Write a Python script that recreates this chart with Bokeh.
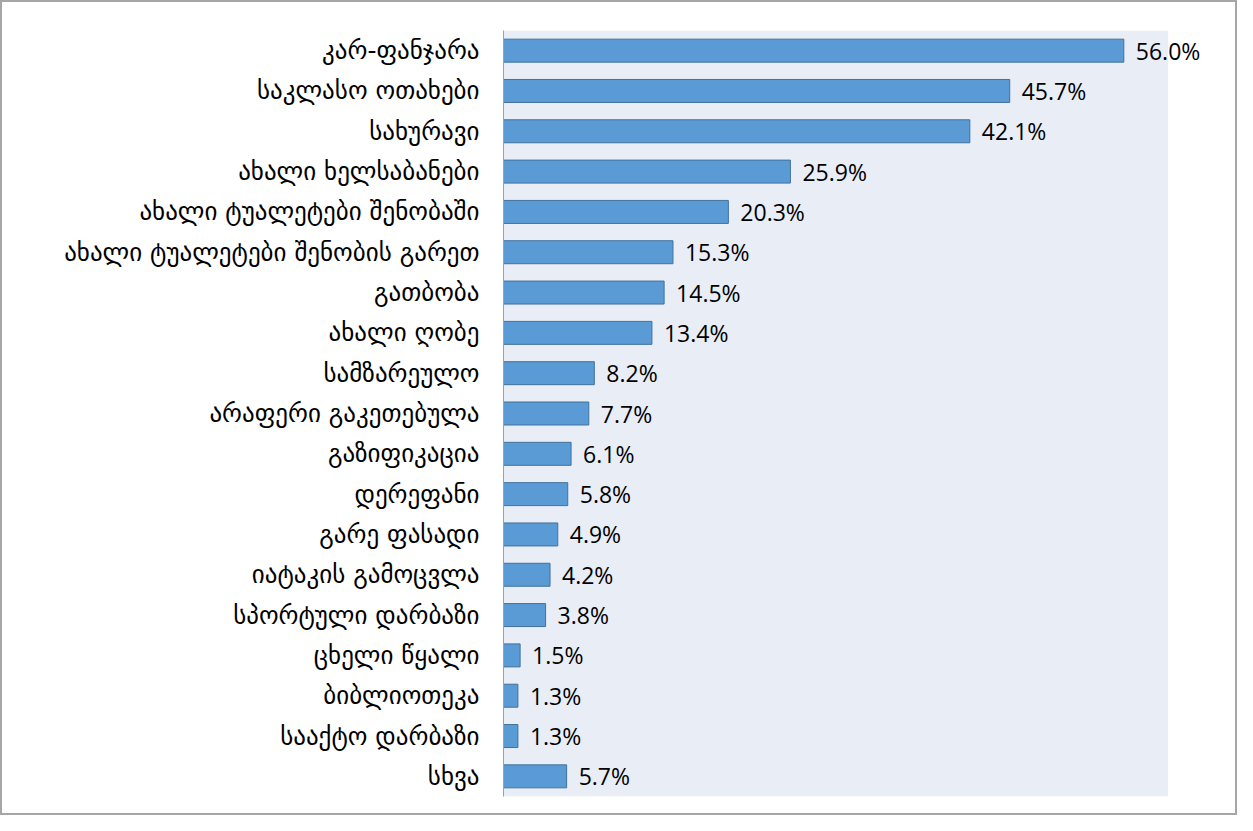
from bokeh.plotting import figure
from bokeh.models import ColumnDataSource, Range1d, FactorRange, LabelSet, BoxAnnotation
from bokeh.core.properties import value
from bokeh.embed import file_html
from bokeh.resources import INLINE

categories = ["კარ-ფანჯარა", "საკლასო ოთახები", "სახურავი", "ახალი ხელსაბანები",
              "ახალი ტუალეტები შენობაში", "ახალი ტუალეტები შენობის გარეთ", "გათბობა",
              "ახალი ღობე", "სამზარეულო", "არაფერი გაკეთებულა", "გაზიფიკაცია",
              "დერეფანი", "გარე ფასადი", "იატაკის გამოცვლა", "სპორტული დარბაზი",
              "ცხელი წყალი", "ბიბლიოთეკა", "სააქტო დარბაზი", "სხვა"]
values = [56.0, 45.7, 42.1, 25.9, 20.3, 15.3, 14.5, 13.4, 8.2, 7.7, 6.1, 5.8,
          4.9, 4.2, 3.8, 1.5, 1.3, 1.3, 5.7]
labels = [f"{v:.1f}%" for v in values]
x_max = 60

src = ColumnDataSource(dict(cat=categories, val=values, lab=labels))

left_px, plot_px, canvas_w = 501, 661, 1233
x_end = x_max * (canvas_w - left_px) / plot_px

p = figure(width=1237, height=815, output_backend="svg", toolbar_location=None,
           y_range=FactorRange(*categories[::-1], range_padding=0),
           x_range=Range1d(0, x_end))
p.min_border_left = left_px
p.min_border_right = 0
p.min_border_top = 28
p.min_border_bottom = 21
p.background_fill_color = "white"
p.border_fill_color = "white"
p.outline_line_color = None
p.styles = {"border": "2px solid #A6A6A6", "box-sizing": "border-box"}

p.add_layout(BoxAnnotation(left=0, right=x_max, fill_color="#E9EDF6", fill_alpha=1,
                           line_color=None, level="underlay"))

p.hbar(y="cat", right="val", left=0, height=0.57, source=src,
       fill_color="#5B9BD5", line_color="#41719C", line_width=1)
lbl = LabelSet(x="val", y="cat", text="lab", source=src, x_offset=12,
               text_baseline="middle", text_align="left",
               text_font=value("Open Sans"), text_font_size="23px", text_color="#000000")
p.add_layout(lbl)

p.xaxis.visible = False
p.xgrid.visible = False
p.ygrid.visible = False
ax = p.yaxis[0]
ax.axis_line_color = "#A0A0A0"
ax.major_tick_line_color = None
ax.minor_tick_line_color = None
ax.major_label_text_font = "DejaVu Sans"
ax.major_label_text_font_size = "25px"
ax.major_label_text_color = "#000000"
ax.major_label_standoff = 18

open("out.html", "w").write(file_html(p, INLINE))
